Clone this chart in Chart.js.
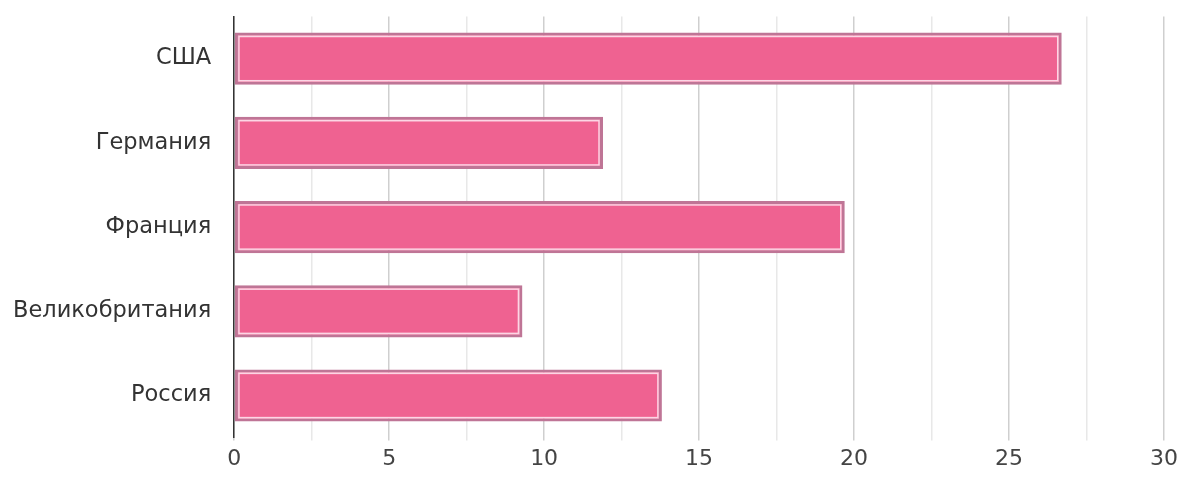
<!DOCTYPE html>
<html>
<head>
<meta charset="utf-8">
<script src="https://cdn.jsdelivr.net/npm/chart.js@4"></script>
<style>
  html, body { margin: 0; padding: 0; background: #fff; }
  #wrap { width: 1183px; height: 477px; }
</style>
</head>
<body>
<div id="wrap"><canvas id="chart"></canvas></div>
<script>
const countries = ['США', 'Германия', 'Франция', 'Великобритания', 'Россия'];
const values = [26.7, 11.9, 19.7, 9.3, 13.8];
const xMin = 0;
const xMax = 30;
const xStep = 2.5;

// thin light line inside each bar's border
const innerLine = {
  id: 'innerLine',
  afterDatasetsDraw(chart) {
    const ctx = chart.ctx;
    chart.getDatasetMeta(0).data.forEach(bar => {
      const p = bar.getProps(['x', 'y', 'base', 'height'], true);
      const left = Math.min(p.base, p.x) + 4;
      const right = Math.max(p.base, p.x) - 4;
      const top = p.y - p.height / 2 + 4;
      const bottom = p.y + p.height / 2 - 4;
      ctx.save();
      ctx.strokeStyle = '#fcd6e5';
      ctx.lineWidth = 1.5;
      ctx.strokeRect(left, top, right - left, bottom - top);
      ctx.restore();
    });
  }
};

const ctx = document.querySelector('#chart').getContext('2d');
new Chart(ctx, {
  type: 'bar',
  data: {
    labels: countries,
    datasets: [{
      data: values,
      backgroundColor: '#ef6291',
      borderColor: '#bf7596',
      borderWidth: 3,
      borderSkipped: false,
      categoryPercentage: 1,
      barPercentage: 0.62
    }]
  },
  plugins: [innerLine],
  options: {
    indexAxis: 'y',
    responsive: true,
    maintainAspectRatio: false,
    animation: false,
    layout: { padding: { top: 15, right: 10, left: 10, bottom: 0 } },
    plugins: {
      legend: { display: false },
      tooltip: { enabled: false }
    },
    scales: {
      x: {
        min: xMin,
        max: xMax,
        border: { display: false },
        grid: {
          color: c => (c.tick && c.tick.value % 5 === 0) ? '#cfcfcf' : '#e8e8e8',
          lineWidth: 1.5,
          tickLength: 3
        },
        ticks: {
          stepSize: xStep,
          autoSkip: false,
          maxRotation: 0,
          padding: 5,
          color: '#444',
          font: { family: 'DejaVu Sans', size: 22 },
          callback: v => v % 5 === 0 ? v : ''
        }
      },
      y: {
        border: { display: true, color: '#333', width: 1.5 },
        grid: {
          drawOnChartArea: false,
          color: 'rgba(0,0,0,0)',
          tickLength: 20
        },
        ticks: {
          padding: 3,
          color: '#333',
          font: { family: 'DejaVu Sans', size: 22.5 }
        }
      }
    }
  }
});
</script>
</body>
</html>
